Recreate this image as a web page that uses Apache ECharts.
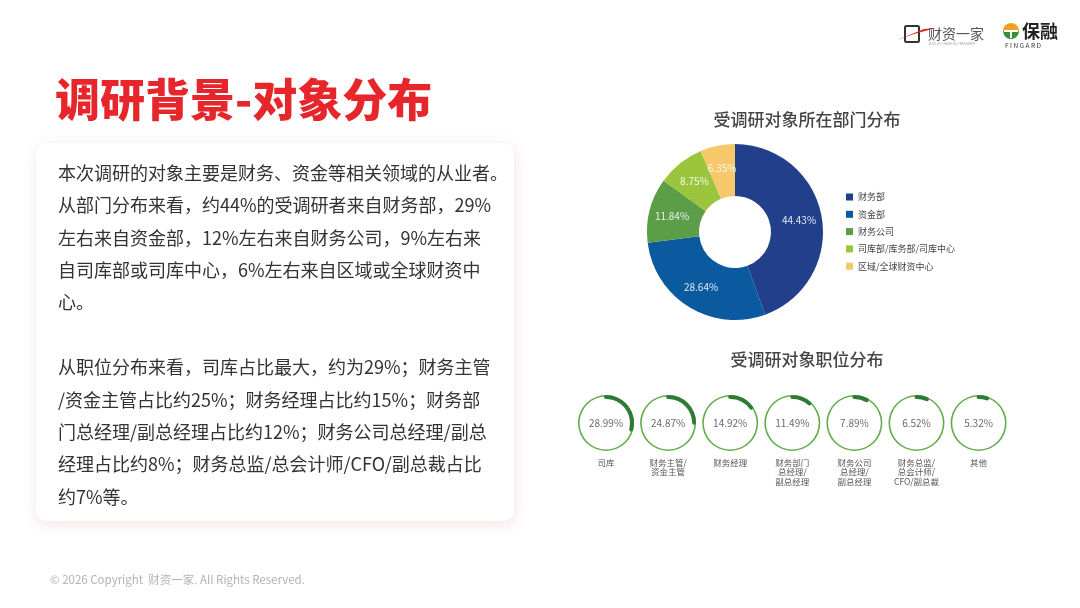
<!DOCTYPE html>
<html>
<head>
<meta charset="utf-8">
<script src="https://cdn.jsdelivr.net/npm/echarts@6/dist/echarts.min.js"></script>
<style>
html,body{margin:0;padding:0;background:#fff;}
#c{width:1080px;height:608px;}
</style>
</head>
<body>
<div id="c"></div>
<script>
// ---- data ----
const pageTitle = '调研背景-对象分布';
const deptTitle = '受调研对象所在部门分布';
const posTitle = '受调研对象职位分布';
const deptNames = ['财务部', '资金部', '财务公司', '司库部/库务部/司库中心', '区域/全球财资中心'];
const deptValues = [44.43, 28.64, 11.84, 8.75, 6.35];
const posNames = ['司库', '财务主管/\n资金主管', '财务经理', '财务部门\n总经理/\n副总经理', '财务公司\n总经理/\n副总经理', '财务总监/\n总会计师/\nCFO/副总裁', '其他'];
const posValues = [28.99, 24.87, 14.92, 11.49, 7.89, 6.52, 5.32];
const bodyLines = [
  '本次调研的对象主要是财务、资金等相关领域的从业者。',
  '从部门分布来看，约44%的受调研者来自财务部，29%',
  '左右来自资金部，12%左右来自财务公司，9%左右来',
  '自司库部或司库中心，6%左右来自区域或全球财资中',
  '心。',
  '',
  '从职位分布来看，司库占比最大，约为29%；财务主管',
  '/资金主管占比约25%；财务经理占比约15%；财务部',
  '门总经理/副总经理占比约12%；财务公司总经理/副总',
  '经理占比约8%；财务总监/总会计师/CFO/副总裁占比',
  '约7%等。'
];
const footerText = '© 2026 Copyright  财资一家. All Rights Reserved.';

// ---- styles ----
const FONT = '"Noto Sans CJK SC", "Noto Sans", sans-serif';
const deptColors = ['#213f8b', '#0b5a9f', '#5b9e47', '#9cc53e', '#f6c86a'];

const chart = echarts.init(document.getElementById('c'), null, {renderer: 'canvas'});

const gaugeSeries = posValues.map((v, i) => {
  const nLines = posNames[i].split('\n').length;
  const lh = 9.6;
  const cx = 606 + 62.1 * i, cy = 423;
  const off = (457.5 - cy) + nLines * lh / 2;
  return {
    type: 'gauge',
    center: [cx, cy],
    radius: 28,
    startAngle: 90,
    endAngle: -270,
    min: 0,
    max: 100,
    pointer: {show: false},
    axisTick: {show: false},
    splitLine: {show: false},
    axisLabel: {show: false},
    anchor: {show: false},
    axisLine: {lineStyle: {width: 1.6, color: [[1, '#63ad4d']]}},
    progress: {show: true, width: 4, roundCap: true, itemStyle: {color: '#2e7b35'}},
    title: {offsetCenter: [0, off], fontSize: 8.5, lineHeight: lh, color: '#555', fontFamily: FONT},
    detail: {
      offsetCenter: [0, 0], fontSize: 10, color: '#6a6a6a', fontWeight: 'normal', fontFamily: FONT,
      formatter: (val) => val.toFixed(2) + '%'
    },
    data: [{value: v, name: posNames[i]}]
  };
});

const option = {
  animation: false,
  backgroundColor: '#ffffff',
  textStyle: {fontFamily: FONT},
  title: [
    {text: deptTitle, left: 802, top: 106, textAlign: 'center',
      textStyle: {fontSize: 17, fontWeight: 500, color: '#444', fontFamily: FONT}},
    {text: posTitle, left: 802, top: 346, textAlign: 'center',
      textStyle: {fontSize: 17, fontWeight: 500, color: '#444', fontFamily: FONT}}
  ],
  legend: {
    orient: 'vertical',
    left: 846,
    top: 192.5,
    padding: 0,
    itemWidth: 7,
    itemHeight: 7,
    itemGap: 8.3,
    icon: 'rect',
    textStyle: {fontSize: 9, color: '#444', fontFamily: FONT, lineHeight: 9},
    data: deptNames
  },
  graphic: [
    {type: 'rect', shape: {x: 36, y: 143, width: 478, height: 378, r: 10},
      style: {fill: '#fff', shadowBlur: 14, shadowColor: 'rgba(190,90,90,0.18)', shadowOffsetX: 1, shadowOffsetY: 3}, z: 0},
    {type: 'text', x: 55, y: 100, z: 5,
      style: {text: pageTitle, fontSize: 45, fontWeight: 900, fill: '#e6262b', fontFamily: FONT, verticalAlign: 'middle'}},
    {type: 'text', x: 58, y: 156.8, z: 5,
      style: {text: bodyLines.join('\n'), fontSize: 18, lineHeight: 32.4, fill: '#333', fontFamily: FONT}},
    {type: 'text', x: 50, y: 580, z: 5,
      style: {text: footerText, fontSize: 11.5, fill: '#b3b3b3', fontFamily: FONT, verticalAlign: 'middle'}},
    // 财资一家 logo
    {type: 'rect', shape: {x: 905, y: 26, width: 14, height: 16, r: 1.5}, z: 5,
      style: {fill: 'none', stroke: '#333', lineWidth: 2}},
    {type: 'polygon', shape: {points: [[897, 40], [924, 29], [936, 28], [914, 34]]}, z: 6,
      style: {fill: '#d9261c'}},
    {type: 'text', x: 928, y: 34, z: 5,
      style: {text: '财资一家', fontSize: 14, fill: '#555', fontFamily: FONT, verticalAlign: 'middle'}},
    {type: 'text', x: 928, y: 44, z: 5,
      style: {text: 'JIN ZI JIA  FINANCIAL TREASURER', fontSize: 3, fill: '#999', fontFamily: FONT, verticalAlign: 'middle'}},
    // 保融 logo
    {type: 'sector', shape: {cx: 1011, cy: 31, r: 8, r0: 0, startAngle: Math.PI, endAngle: Math.PI * 2}, z: 5,
      style: {fill: '#f2a11f'}},
    {type: 'sector', shape: {cx: 1011, cy: 31, r: 8, r0: 0, startAngle: 0, endAngle: Math.PI}, z: 5,
      style: {fill: '#3a8d3a'}},
    {type: 'rect', shape: {x: 1004, y: 30, width: 14, height: 2}, z: 6, style: {fill: '#fff'}},
    {type: 'rect', shape: {x: 1010, y: 30, width: 2, height: 8}, z: 6, style: {fill: '#fff'}},
    {type: 'text', x: 1022, y: 31, z: 5,
      style: {text: '保融', fontSize: 18, fontWeight: 'bold', fill: '#222', fontFamily: FONT, verticalAlign: 'middle'}},
    {type: 'text', x: 1005, y: 46, z: 5,
      style: {text: 'F I N G A R D', fontSize: 6.5, fill: '#333', fontFamily: FONT, verticalAlign: 'middle'}}
  ],
  series: [
    {
      type: 'pie',
      center: [735, 232],
      radius: [36, 88],
      startAngle: 90,
      clockwise: true,
      avoidLabelOverlap: false,
      itemStyle: {borderWidth: 0},
      label: {
        show: true, position: 'inside', fontSize: 10, color: 'rgba(255,255,255,0.88)', fontFamily: FONT,
        formatter: (p) => p.value.toFixed(2) + '%'
      },
      labelLine: {show: false},
      emphasis: {disabled: true},
      data: deptNames.map((n, i) => ({name: n, value: deptValues[i], itemStyle: {color: deptColors[i]}}))
    },
    ...gaugeSeries
  ]
};
chart.setOption(option);
</script>
</body>
</html>
